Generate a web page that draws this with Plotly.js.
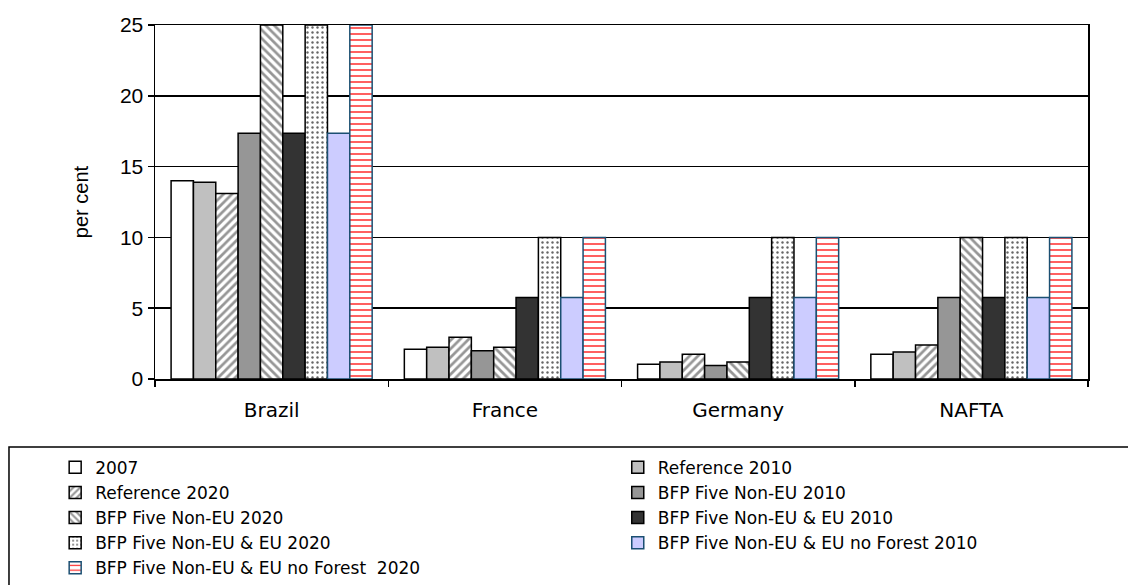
<!DOCTYPE html>
<html>
<head>
<meta charset="utf-8">
<script src="https://cdn.plot.ly/plotly-3.0.1.min.js"></script>
<style>html,body{margin:0;padding:0;background:#fff;}#chart{width:1128px;height:585px;}</style>
</head>
<body>
<div id="chart"></div>
<script>
var categories = ["Brazil", "France", "Germany", "NAFTA"];
var seriesNames = [
  "2007",
  "Reference 2010",
  "Reference 2020",
  "BFP Five Non-EU 2010",
  "BFP Five Non-EU 2020",
  "BFP Five Non-EU & EU 2010",
  "BFP Five Non-EU & EU 2020",
  "BFP Five Non-EU & EU no Forest 2010",
  "BFP Five Non-EU & EU no Forest  2020"
];
var v2007 = [14.0, 2.1, 1.05, 1.75];
var vRef2010 = [13.9, 2.25, 1.2, 1.9];
var vRef2020 = [13.1, 2.95, 1.75, 2.4];
var vNonEU2010 = [17.35, 2.0, 0.95, 5.75];
var vNonEU2020 = [25, 2.25, 1.2, 10];
var vEU2010 = [17.35, 5.75, 5.75, 5.75];
var vEU2020 = [25, 10, 10, 10];
var vNoForest2010 = [17.35, 5.75, 5.75, 5.75];
var vNoForest2020 = [25, 10, 10, 10];
var yTicks = [0, 5, 10, 15, 20, 25];

var values = [v2007, vRef2010, vRef2020, vNonEU2010, vNonEU2020, vEU2010, vEU2020, vNoForest2010, vNoForest2020];
var styles = [
  {color: "#FFFFFF", line: "#000000"},
  {color: "#C0C0C0", line: "#000000"},
  {color: "#FFFFFF", line: "#000000", pattern: {shape: "/", fgcolor: "#969696", bgcolor: "#FFFFFF", size: 6, solidity: 0.45}},
  {color: "#969696", line: "#000000"},
  {color: "#FFFFFF", line: "#000000", pattern: {shape: "\\", fgcolor: "#969696", bgcolor: "#FFFFFF", size: 6, solidity: 0.45}},
  {color: "#333333", line: "#000000"},
  {color: "#FFFFFF", line: "#000000", pattern: {shape: ".", fgcolor: "#666666", bgcolor: "#FFFFFF", size: 5, solidity: 0.18}},
  {color: "#CCCCFF", line: "#1B4F72"},
  {color: "#FFFFFF", line: "#1B4F72", pattern: {shape: "-", fgcolor: "#FF2A2A", bgcolor: "#FFFFFF", size: 6, solidity: 0.25}}
];
var legendOf = ["legend", "legend2", "legend", "legend2", "legend", "legend2", "legend", "legend2", "legend"];

var traces = values.map(function (vals, i) {
  var s = styles[i];
  var marker = {color: s.color, line: {color: s.line, width: 1.5}};
  if (s.pattern) marker.pattern = s.pattern;
  return {
    type: "bar",
    name: seriesNames[i],
    x: categories,
    y: vals,
    marker: marker,
    legend: legendOf[i],
    hoverinfo: "x+y+name"
  };
});

var legendFont = {family: "DejaVu Sans, Verdana, sans-serif", size: 17, color: "#000000"};

var layout = {
  width: 1128,
  height: 585,
  margin: {l: 155, r: 40, t: 25, b: 206, autoexpand: false},
  paper_bgcolor: "#FFFFFF",
  plot_bgcolor: "#FFFFFF",
  barmode: "group",
  bargap: 0.138,
  bargroupgap: 0,
  showlegend: true,
  xaxis: {
    type: "category",
    showline: true,
    linecolor: "#000000",
    linewidth: 1.5,
    mirror: true,
    ticks: "outside",
    tickson: "boundaries",
    ticklen: 6,
    tickwidth: 1.5,
    tickcolor: "#000000",
    ticklabelstandoff: 12,
    tickfont: {family: "DejaVu Sans, Verdana, sans-serif", size: 20, color: "#000000"},
    showgrid: false,
    automargin: false
  },
  yaxis: {
    range: [0, 25],
    tickvals: yTicks,
    ticktext: yTicks.map(String),
    showline: true,
    linecolor: "#000000",
    linewidth: 1.5,
    mirror: true,
    ticks: "outside",
    ticklen: 6,
    tickwidth: 1.5,
    tickcolor: "#000000",
    showgrid: true,
    gridcolor: "#000000",
    gridwidth: 1.5,
    zeroline: false,
    tickfont: {family: "Liberation Sans, Arial, sans-serif", size: 21, color: "#000000"},
    title: {text: "per cent", font: {family: "Liberation Sans, Arial, sans-serif", size: 20, color: "#000000"}, standoff: 26},
    automargin: false
  },
  legend: {
    orientation: "v",
    x: -0.107,
    xanchor: "left",
    y: -0.2,
    yanchor: "top",
    bgcolor: "rgba(0,0,0,0)",
    borderwidth: 0,
    font: legendFont,
    traceorder: "normal"
  },
  legend2: {
    orientation: "v",
    x: 0.496,
    xanchor: "left",
    y: -0.2,
    yanchor: "top",
    bgcolor: "rgba(0,0,0,0)",
    borderwidth: 0,
    font: legendFont,
    traceorder: "normal"
  },
  shapes: [{
    type: "rect",
    xref: "paper",
    yref: "paper",
    x0: -0.1565,
    x1: 1.08,
    y0: -0.192,
    y1: -0.7,
    line: {color: "#000000", width: 1.5},
    fillcolor: "rgba(0,0,0,0)",
    layer: "below"
  }]
};

Plotly.newPlot("chart", traces, layout, {displayModeBar: false, staticPlot: true});
</script>
</body>
</html>
